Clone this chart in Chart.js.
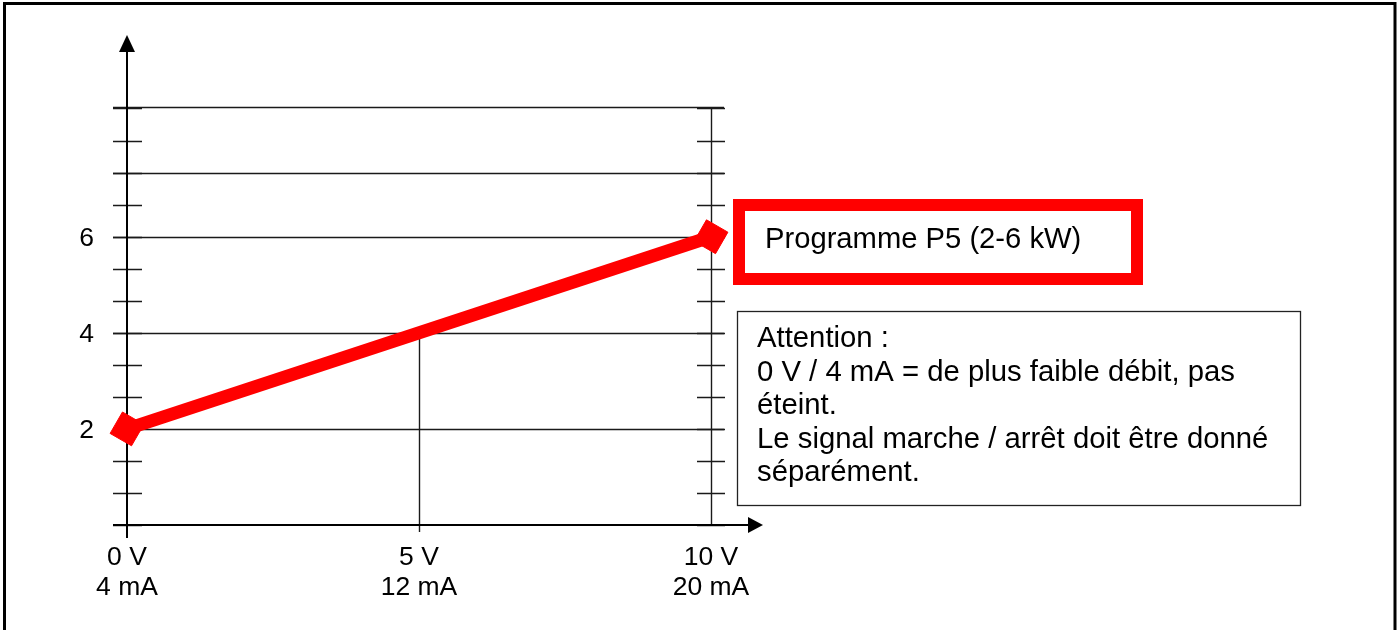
<!DOCTYPE html>
<html>
<head>
<meta charset="utf-8">
<script src="https://cdn.jsdelivr.net/npm/chart.js@4/dist/chart.umd.min.js"></script>
<style>
  html, body { margin: 0; padding: 0; background: #ffffff; }
  #wrap { width: 1400px; height: 630px; position: relative; }
</style>
</head>
<body>
<div id="wrap"><canvas id="c" width="1400" height="630"></canvas></div>
<script>
// ---- data ----
const xValues = [0, 10];            // 0 V / 4 mA  ->  10 V / 20 mA
const yValues = [2, 6];             // kW
const xTickValues = [0, 5, 10];
const xTickLabels = [['0 V', '4 mA'], ['5 V', '12 mA'], ['10 V', '20 mA']];
const yLabelValues = [2, 4, 6];
const yLabelTexts = ['2', '4', '6'];
const gridValues = [2, 4, 6, 7.33, 8.7];
const minorTickValues = [0, 0.67, 1.33, 2, 2.67, 3.33, 4, 4.67, 5.33, 6, 6.67, 7.33, 8, 8.67];
const boxTitle = 'Programme P5 (2-6 kW)';
const noteLines = [
  'Attention :',
  '0 V / 4 mA = de plus faible débit, pas',
  'éteint.',
  'Le signal marche / arrêt doit être donné',
  'séparément.'
];

const FONT = '"Liberation Sans", Arial, sans-serif';

const diagramPlugin = {
  id: 'diagram',
  beforeDatasetsDraw(chart) {
    const ctx = chart.ctx;
    const xs = chart.scales.x, ys = chart.scales.y;
    const X = v => xs.getPixelForValue(v);
    const Y = v => ys.getPixelForValue(v);
    const x0 = X(0), x10 = X(10), y0 = Y(0);
    ctx.save();

    // outer frame
    ctx.strokeStyle = '#000';
    ctx.lineWidth = 3;
    ctx.beginPath();
    ctx.moveTo(4.5, 630);
    ctx.lineTo(4.5, 3.5);
    ctx.lineTo(1395, 3.5);
    ctx.lineTo(1395, 630);
    ctx.stroke();

    // horizontal grid lines
    ctx.strokeStyle = '#1a1a1a';
    ctx.lineWidth = 1.4;
    gridValues.forEach(v => {
      const y = Math.round(Y(v)) + 0.5;
      ctx.beginPath();
      ctx.moveTo(x0 - 14, y);
      ctx.lineTo(x10 + 13, y);
      ctx.stroke();
    });

    // minor ticks on both vertical axes
    minorTickValues.forEach(v => {
      const y = Math.round(Y(v)) + 0.5;
      ctx.beginPath();
      ctx.moveTo(x0 - 14, y); ctx.lineTo(x0 + 15, y);
      ctx.moveTo(x10 - 14, y); ctx.lineTo(x10 + 14, y);
      ctx.stroke();
    });

    // vertical line at 5 V up to 4 kW
    ctx.beginPath();
    ctx.moveTo(Math.round(X(5)) + 0.5, Y(4));
    ctx.lineTo(Math.round(X(5)) + 0.5, y0 + 7);
    ctx.stroke();

    // right vertical axis
    ctx.beginPath();
    ctx.moveTo(Math.round(x10) + 0.5, Y(8.7));
    ctx.lineTo(Math.round(x10) + 0.5, y0);
    ctx.stroke();

    // main axes
    ctx.strokeStyle = '#000';
    ctx.lineWidth = 2;
    ctx.beginPath();
    ctx.moveTo(x0, y0 + 13);
    ctx.lineTo(x0, 50);
    ctx.stroke();
    ctx.beginPath();
    ctx.moveTo(x0 - 14, y0);
    ctx.lineTo(750, y0);
    ctx.stroke();
    // arrows
    ctx.fillStyle = '#000';
    ctx.beginPath();
    ctx.moveTo(x0, 35); ctx.lineTo(x0 - 8, 52); ctx.lineTo(x0 + 8, 52); ctx.closePath();
    ctx.fill();
    ctx.beginPath();
    ctx.moveTo(763, y0); ctx.lineTo(748, y0 - 8); ctx.lineTo(748, y0 + 8); ctx.closePath();
    ctx.fill();

    // y labels
    ctx.font = '26.5px ' + FONT;
    ctx.textAlign = 'right';
    ctx.textBaseline = 'alphabetic';
    yLabelValues.forEach((v, i) => {
      ctx.fillText(yLabelTexts[i], 94, Y(v) + 9.5);
    });

    // x labels
    ctx.textAlign = 'center';
    xTickValues.forEach((v, i) => {
      const x = X(v);
      ctx.fillText(xTickLabels[i][0], x, y0 + 40);
      ctx.fillText(xTickLabels[i][1], x, y0 + 70);
    });

    // red title box
    ctx.strokeStyle = '#ff0000';
    ctx.lineWidth = 12;
    ctx.strokeRect(739, 205, 398, 74);
    ctx.fillStyle = '#000';
    ctx.textAlign = 'left';
    ctx.font = '29.2px ' + FONT;
    ctx.fillText(boxTitle, 765, 248);

    // note box
    ctx.strokeStyle = '#222';
    ctx.lineWidth = 1.3;
    ctx.strokeRect(737.5, 311.5, 563, 194);
    ctx.font = '29.3px ' + FONT;
    noteLines.forEach((t, i) => {
      ctx.fillText(t, 757, 347 + i * 33.5);
    });

    ctx.restore();
  }
};

new Chart(document.getElementById('c'), {
  type: 'scatter',
  data: {
    datasets: [{
      data: xValues.map((x, i) => ({ x: x, y: yValues[i] })),
      showLine: true,
      borderColor: '#ff0000',
      borderWidth: 13,
      backgroundColor: '#ff0000',
      pointBackgroundColor: '#ff0000',
      pointBorderColor: '#ff0000',
      pointStyle: 'rect',
      pointRotation: 30,
      pointRadius: 17.5,
      pointHoverRadius: 17.5,
      pointBorderWidth: 1,
      clip: false
    }]
  },
  options: {
    responsive: false,
    animation: false,
    events: [],
    layout: { padding: { left: 127, right: 689, top: 107, bottom: 105 } },
    plugins: { legend: { display: false }, tooltip: { enabled: false } },
    scales: {
      x: { type: 'linear', min: 0, max: 10, display: false },
      y: { type: 'linear', min: 0, max: 8.7, display: false }
    }
  },
  plugins: [diagramPlugin]
});
</script>
</body>
</html>
